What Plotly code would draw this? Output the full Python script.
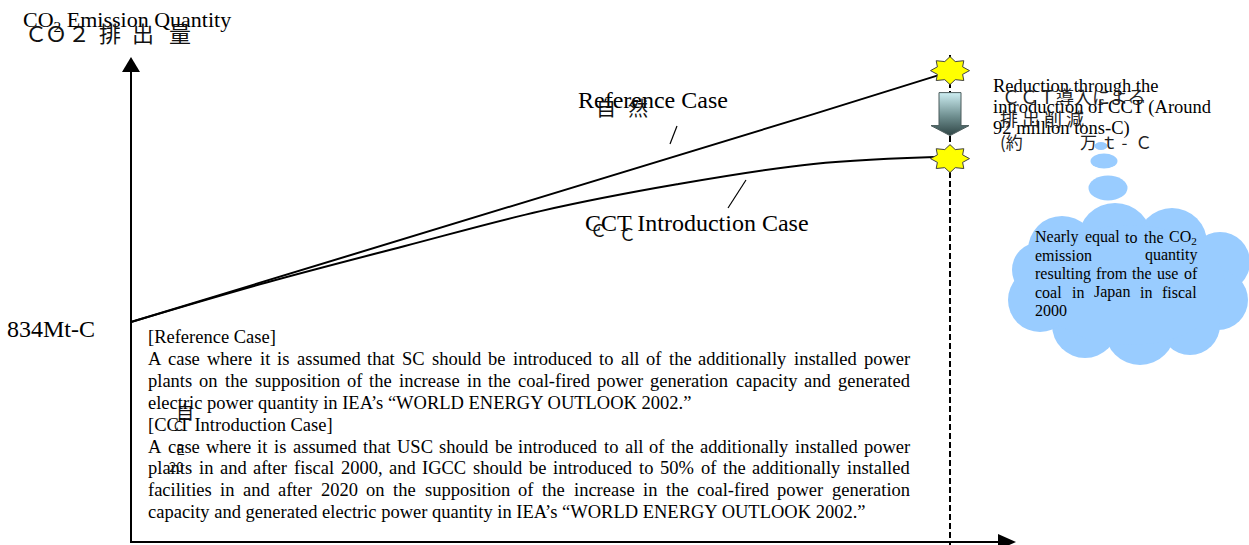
import math
import plotly.graph_objects as go

# ---------------- data ----------------
years = [2000, 2005, 2010, 2015, 2020, 2025, 2030]
reference_case = [834, 879, 924, 969, 1014, 1059, 1105]   # Mt-C
cct_case = [834, 877, 916, 954, 983, 1005, 1013]          # Mt-C
start_label = "834Mt-C"
reduction_mt = 92   # million tons-C

# ---------------- frame / scale ----------------
W, H = 1249, 545
X_PX0, X_PX1 = 131, 950          # pixel of first / last year
Y_PX0 = 322                      # pixel of the starting value
px_per_year = (X_PX1 - X_PX0) / (years[-1] - years[0])
mt_per_px = (reference_case[-1] - cct_case[-1]) / 85.0
x_range = [years[0] - X_PX0 / px_per_year, years[0] + (W - X_PX0) / px_per_year]
y_range = [reference_case[0] - (H - Y_PX0) * mt_per_px, reference_case[0] + Y_PX0 * mt_per_px]


def X(px):
    return x_range[0] + px / W * (x_range[1] - x_range[0])


def Y(py):
    return y_range[1] - py / H * (y_range[1] - y_range[0])


def PX(x):
    return (x - x_range[0]) / (x_range[1] - x_range[0]) * W


def PY(y):
    return (y_range[1] - y) / (y_range[1] - y_range[0]) * H


SERIF = "Liberation Serif"
JP = "Noto Sans CJK JP"

fig = go.Figure()
shapes = []
annotations = []


def txt(s, px, py, size, font=SERIF, xanchor="left", color="black"):
    annotations.append(dict(text=s, x=X(px), y=Y(py), xref="x", yref="y", showarrow=False,
                            xanchor=xanchor, yanchor="middle", borderpad=0, borderwidth=0,
                            font=dict(family=font, size=size, color=color)))


# Times-metric advance widths (per 1000 em) for justified text
TW = {" ": 250, "!": 333, "%": 833, "'": 180, "(": 333, ")": 333, ",": 250, "-": 333, ".": 250,
      ":": 278, "[": 333, "]": 333, "’": 333, "“": 444, "”": 444,
      "A": 722, "B": 667, "C": 667, "D": 722, "E": 611, "F": 556, "G": 722, "H": 722, "I": 333,
      "J": 389, "K": 722, "L": 611, "M": 889, "N": 722, "O": 722, "P": 556, "Q": 722, "R": 667,
      "S": 556, "T": 611, "U": 722, "V": 722, "W": 944, "X": 722, "Y": 722, "Z": 611,
      "a": 444, "b": 500, "c": 444, "d": 500, "e": 444, "f": 333, "g": 500, "h": 500, "i": 278,
      "j": 278, "k": 500, "l": 278, "m": 778, "n": 500, "o": 500, "p": 500, "q": 500, "r": 333,
      "s": 389, "t": 278, "u": 500, "v": 500, "w": 722, "x": 500, "y": 500, "z": 444}


def word_width(w, size):
    if w == "CO<sub>2</sub>":
        return (TW["C"] + TW["O"] + 0.7 * 500) * size / 1000
    return sum(TW.get(c, 500) for c in w) * size / 1000


def justified(s, x0, x1, py, size):
    words = s.split(" ")
    widths = [word_width(w, size) for w in words]
    gap = (x1 - x0 - sum(widths)) / max(len(words) - 1, 1)
    x = x0
    for w, wd in zip(words, widths):
        txt(w, x, py, size)
        x += wd + gap


def line(p0, p1, width=2, dash=None, layer="above", color="black"):
    shapes.append(dict(type="line", x0=X(p0[0]), y0=Y(p0[1]), x1=X(p1[0]), y1=Y(p1[1]),
                       xref="x", yref="y", layer=layer,
                       line=dict(color=color, width=width, dash=dash)))


def poly(points, fill, outline=None, width=0, layer="above"):
    path = "M " + " L ".join(f"{X(a)},{Y(b)}" for a, b in points) + " Z"
    shapes.append(dict(type="path", path=path, xref="x", yref="y", fillcolor=fill, layer=layer,
                       line=dict(color=outline or fill, width=width)))


def ellipse(cx, cy, rx, ry, fill, layer="above"):
    shapes.append(dict(type="circle", x0=X(cx - rx), x1=X(cx + rx), y0=Y(cy + ry), y1=Y(cy - ry),
                       xref="x", yref="y", fillcolor=fill, layer=layer, line=dict(width=0)))


# ---------------- data lines ----------------
fig.add_trace(go.Scatter(x=years, y=reference_case, mode="lines", name="Reference Case",
                         line=dict(color="black", width=2), hoverinfo="skip"))
fig.add_trace(go.Scatter(x=years, y=cct_case, mode="lines", name="CCT Introduction Case",
                         line=dict(color="black", width=2, shape="spline", smoothing=1.0),
                         hoverinfo="skip"))

# ---------------- axes with arrows ----------------
ax_px = PX(years[0])
line((ax_px, 543), (ax_px, 70), width=2)
poly([(ax_px, 57), (ax_px + 9, 72), (ax_px - 9, 72)], "black")
line((ax_px - 1, 542), (1000, 542), width=2)
poly([(1016, 542), (998, 534), (998, 550)], "black")

# dashed line at final year
end_px = PX(years[-1])
line((end_px, 55), (end_px, 548), width=2, dash="6px,3px", layer="below")

# reduction arrow (gradient) between the two end values
top = PY(reference_case[-1]) + 21
tip = PY(cct_case[-1]) - 21
hs = tip - 10
arrow_px = [(end_px - 11, top), (end_px + 11, top), (end_px + 11, hs), (end_px + 19, hs),
            (end_px, tip), (end_px - 19, hs), (end_px - 11, hs), (end_px - 11, top)]
fig.add_trace(go.Scatter(x=[X(a) for a, b in arrow_px], y=[Y(b) for a, b in arrow_px],
                         mode="lines", fill="toself",
                         fillgradient=dict(type="vertical",
                                           colorscale=[[0, "#2f4545"], [0.45, "#6f8f90"], [1, "#cdeef2"]]),
                         line=dict(color="#4a5a5a", width=1), hoverinfo="skip"))


# stars at the end values
def star(cx, cy, rx=19.5, ry=14, inner=0.7):
    pts = []
    for k in range(16):
        ang = math.pi / 2 - k * math.pi / 8
        f = 1.0 if k % 2 == 0 else inner
        pts.append((cx + rx * f * math.cos(ang), cy - ry * f * math.sin(ang)))
    poly(pts, "#ffff00", outline="#404040", width=1)


star(end_px, PY(reference_case[-1]) - 1)
star(end_px, PY(cct_case[-1]) + 2)

# pointer lines from labels
line((677, 126), (670, 144), width=1.2)
line((746, 180), (728, 208), width=1.2)

# ---------------- cloud ----------------
CLOUD = "#99ccff"
ellipse(1101, 146, 6.5, 4, CLOUD)
ellipse(1104, 161, 13.5, 7.5, CLOUD)
ellipse(1108, 188, 19.5, 12.5, CLOUD)
for cx, cy, r in [(1062, 250, 34), (1115, 240, 37), (1172, 243, 35), (1220, 262, 30),
                  (1218, 300, 30), (1190, 325, 30), (1140, 330, 35), (1085, 325, 33),
                  (1040, 300, 32), (1040, 270, 28)]:
    ellipse(cx, cy, r, r, CLOUD)
ellipse(1130, 285, 95, 60, CLOUD)

# ---------------- texts ----------------
txt("CO<sub>2</sub> Emission Quantity", 23, 21, 22)
for ch, x in [("Ｃ", 36), ("Ｏ", 56), ("２", 79), ("排", 110), ("出", 143), ("量", 180)]:
    txt(ch, x, 32, 22, font=JP, xanchor="center", color="#111111")

txt("Reference Case", 578, 100, 24)
txt("自", 606, 107, 20, font=JP, xanchor="center", color="#111111")
txt("然", 638, 107, 20, font=JP, xanchor="center", color="#111111")

txt("CCT Introduction Case", 585, 223, 24)
txt("Ｃ", 598, 229, 17, font=JP, xanchor="center", color="#111111")
txt("Ｃ", 627, 233, 17, font=JP, xanchor="center", color="#111111")

txt(start_label, 7, 329, 24)

txt("Reduction through the", 993, 86, 18.5)
txt("introduction of CCT (Around", 993, 107, 18.5)
txt(f"{reduction_mt} million tons-C)", 993, 128, 18.5)
txt("ＣＣＴ導入による", 1002, 96, 18, font=JP, color="#222222")
txt("排 出 削 減", 1000, 118, 18, font=JP, color="#222222")
txt("(約", 1000, 141, 17, font=JP, color="#222222")
txt("万 ｔ -  Ｃ", 1080, 141, 17, font=JP, color="#222222")

cloud_font = 16
cloud_lines = ["Nearly equal to the CO<sub>2</sub>", "emission quantity",
               "resulting from the use of", "coal in Japan in fiscal"]
for i, s in enumerate(cloud_lines):
    justified(s, 1035, 1197, 237 + i * 18.4, cloud_font)
txt("2000", 1035, 237 + 4 * 18.4, cloud_font)

block = [
    "[Reference Case]",
    "A case where it is assumed that SC should be introduced to all of the additionally installed power",
    "plants on the supposition of the increase in the coal-fired power generation capacity and generated",
    "electric power quantity in IEA’s “WORLD ENERGY OUTLOOK 2002.”",
    "[CCT Introduction Case]",
    "A case where it is assumed that USC should be introduced to all of the additionally installed power",
    "plants in and after fiscal 2000, and IGCC should be introduced to 50% of the additionally installed",
    "facilities in and after 2020 on the supposition of the increase in the coal-fired power generation",
    "capacity and generated electric power quantity in IEA’s “WORLD ENERGY OUTLOOK 2002.”",
]
justify_rows = {1, 2, 5, 6, 7}
for i, s in enumerate(block):
    py = 337 + i * 21.9
    if i in justify_rows:
        justified(s, 148, 910, py, 18.5)
    else:
        txt(s, 148, py, 18.5)

txt("自", 185, 411, 18, font=JP, xanchor="center", color="#111111")
txt("Ｃ", 178, 425, 13, font=JP, xanchor="center", color="#111111")
txt("Ｅ", 180, 449, 13, font=JP, xanchor="center", color="#111111")
txt("20", 176, 466, 13, font=JP, xanchor="center", color="#111111")

fig.update_layout(
    width=W, height=H, margin=dict(l=0, r=0, t=0, b=0),
    paper_bgcolor="white", plot_bgcolor="white", showlegend=False,
    xaxis=dict(range=x_range, visible=False, fixedrange=True),
    yaxis=dict(range=y_range, visible=False, fixedrange=True),
    shapes=shapes, annotations=annotations,
)
fig.write_html("out.html", config={"displayModeBar": False},
               post_script="document.body.style.margin='0';document.body.style.overflow='hidden';")
